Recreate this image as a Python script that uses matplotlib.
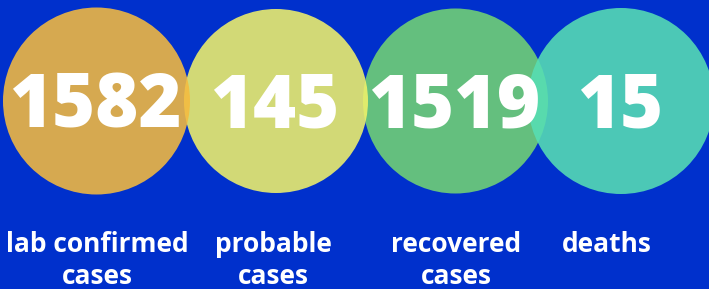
import matplotlib.pyplot as plt
from matplotlib.patches import Circle

counts = [1582, 145, 1519, 15]
labels = ["lab confirmed\ncases", "probable\ncases", "recovered\ncases", "deaths"]

colors = ["#f5bb3f", "#f1f26a", "#73d473", "#57deb4"]
bg = "#0030cc"

# layout (pixels)
centers_x = [96.5, 276, 455.5, 621]
center_y = 101
radii = [93.5, 92, 92.5, 93]
label_x = [97, 273, 456, 607]
zorders = [4, 3, 1, 2]

fig = plt.figure(figsize=(7.09, 2.89), dpi=100, facecolor=bg)
ax = fig.add_axes([0, 0, 1, 1])
ax.set_facecolor(bg)
ax.set_xlim(0, 709)
ax.set_ylim(289, 0)
ax.set_aspect("equal")
ax.axis("off")

for i, n in enumerate(counts):
    ax.add_patch(Circle((centers_x[i], center_y), radii[i], facecolor=colors[i],
                        edgecolor="none", alpha=0.88, zorder=zorders[i]))
    ax.text(centers_x[i] - 1, 127, str(n), ha="center", va="baseline",
            color="white", fontsize=53, fontweight=800,
            family="Open Sans", zorder=10)
    ax.text(label_x[i], 231, labels[i], ha="center", va="top", color="white",
            fontsize=19, fontweight="bold", family="Open Sans",
            linespacing=1.25, zorder=10)

fig.savefig("out.png", dpi=100, facecolor=bg)
plt.close()
